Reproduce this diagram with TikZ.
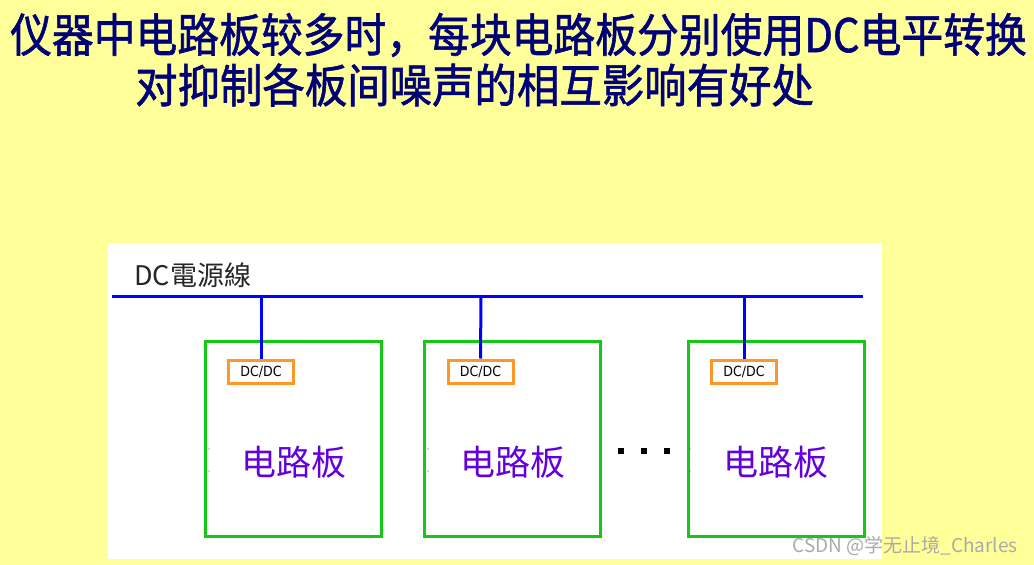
\documentclass[tikz,border=0pt]{standalone}
\usepackage{fontspec}
\newfontfamily\cjk{Noto Sans CJK SC}
\newfontfamily\cjkt[FakeBold=1.3]{Noto Sans CJK SC}
\newfontfamily\latinsans{DejaVu Sans Condensed}
\definecolor{bgyellow}{RGB}{255,255,153}
\definecolor{titleblue}{RGB}{0,0,120}
\definecolor{busblue}{RGB}{0,0,255}
\definecolor{boardgreen}{RGB}{20,200,20}
\definecolor{dcorange}{RGB}{255,150,40}
\definecolor{boardpurple}{RGB}{100,0,220}
\definecolor{wmgray}{RGB}{170,170,170}
\tikzset{
  board/.style={draw=boardgreen, line width=3pt, fill=white, minimum width=176pt, minimum height=195pt, inner sep=0pt},
  dcbox/.style={draw=dcorange, line width=3pt, fill=white, minimum width=65pt, minimum height=23pt, inner sep=0pt, font=\latinsans\fontsize{14}{14}\selectfont},
  bus/.style={draw=busblue, line width=3pt},
  boardlabel/.style={text=boardpurple, font=\cjk\fontsize{35}{35}\selectfont, inner sep=0pt},
  titletext/.style={text=titleblue, font=\cjkt\fontsize{42}{42}\selectfont, inner sep=0pt, anchor=west},
  dotmark/.style={fill=black, minimum size=6pt, inner sep=0pt, draw=none}
}
\begin{document}
\begin{tikzpicture}[x=1pt,y=-1pt]
\useasboundingbox (0,0) rectangle (1034,565);
\fill[bgyellow] (0,0) rectangle (1034,565);
% titles
\node[titletext] (t1) at (10,35) {\scalebox{0.995}[1.1]{仪器中电路板较多时，每块电路板分别使用DC电平转换}};
\node[titletext] (t2) at (135,85) {\scalebox{1.01}[1.1]{对抑制各板间噪声的相互影响有好处}};
% white panel
\fill[white] (108,243) rectangle (882,559);
\node[anchor=west, inner sep=0pt, font=\cjk\fontsize{27}{27}\selectfont, text=black!85] (lbl) at (134,275) {DC電源線};
% bus
\coordinate (busL) at (112,296);
\coordinate (busR) at (863,296);
\draw[bus] (busL) -- (busR);
% boards
\node[board] (b1) at (293,438.5) {};
\node[board] (b2) at (512,438.5) {};
\node[board] (b3) at (776,438.5) {};
% dc boxes
\node[dcbox] (d1) at (261,371.5) {DC/DC};
\node[dcbox] (d2) at (480.5,371.5) {DC/DC};
\node[dcbox] (d3) at (744,371.5) {DC/DC};
% taps
\coordinate (j1) at (261,296);
\coordinate (j2) at (481,296);
\coordinate (j3) at (744,296);
\draw[bus] (j1) -- (d1.north);
\draw[bus] (j2) -- (d2.north);
\draw[bus] (j3) -- (d3.north);
% labels
\node[boardlabel] (l1) at (294,462) {电路板};
\node[boardlabel] (l2) at (513,462) {电路板};
\node[boardlabel] (l3) at (776,462) {电路板};
% dots
\node[dotmark] (p1) at (621,451) {};
\node[dotmark] (p2) at (644,451) {};
\node[dotmark] (p3) at (667,451) {};
% tiny stray marks
\foreach \xx in {209,428,690} {
  \fill[black!70] (\xx,449) circle (0.7);
  \fill[black!70] (\xx,471) circle (0.7);
}
% watermark
\node[anchor=east, inner sep=0pt, text=wmgray, font=\cjk\fontsize{19}{19}\selectfont] (wm) at (1018,546) {CSDN @学无止境\_Charles};
\end{tikzpicture}
\end{document}
